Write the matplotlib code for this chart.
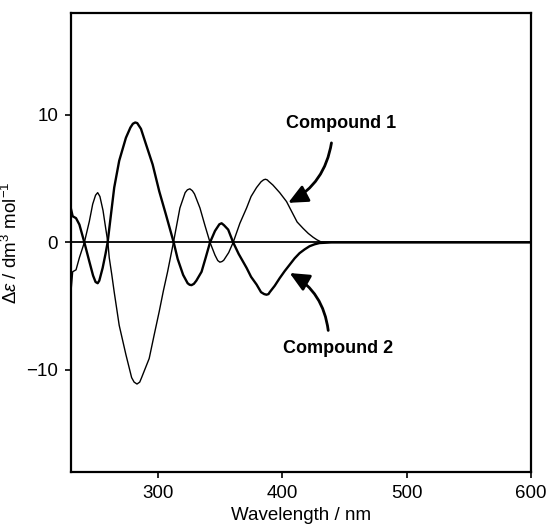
import matplotlib
matplotlib.use("Agg")
import matplotlib.pyplot as plt

plt.rcParams['font.family'] = ['Liberation Sans', 'DejaVu Sans']
plt.rcParams['mathtext.fontset'] = 'custom'
plt.rcParams['mathtext.rm'] = 'Liberation Sans'
plt.rcParams['mathtext.it'] = 'Liberation Sans:italic'
plt.rcParams['mathtext.bf'] = 'Liberation Sans:bold'

# Compound 1 (thin line)
wl_c1 = [230.3, 231.0, 231.6, 234.3, 237.0, 241.0, 245.0, 247.7, 250.0, 251.7, 253.5, 256.0,
         258.0, 259.9, 261.0, 263.0, 265.0, 269.0, 274.4, 279.0, 281.0, 283.3, 285.5, 287.0,
         293.1, 297.0, 301.2, 304.5, 307.9, 312.6, 317.8, 322.0, 323.8, 325.8, 327.8, 329.5,
         333.9, 338.0, 342.0, 346.0, 348.2, 349.9, 351.6, 353.0, 357.0, 360.6, 366.0, 371.4,
         375.0, 379.4, 383.0, 385.0, 386.5, 388.0, 389.0, 392.5, 398.0, 403.5, 408.8, 412.0,
         416.8, 421.0, 424.9, 428.0, 431.0, 440.0, 600.0]
de_c1 = [-3.8, -3.0, -2.3, -2.15, -1.2, 0.0, 1.65, 3.0, 3.7, 3.9, 3.6, 2.5,
         1.2, 0.0, -1.2, -2.5, -3.9, -6.5, -8.8, -10.6, -10.95, -11.1, -10.95, -10.6,
         -9.1, -7.3, -5.4, -3.8, -2.3, 0.0, 2.7, 3.9, 4.12, 4.2, 4.05, 3.8,
         2.7, 1.3, 0.0, -1.0, -1.42, -1.55, -1.5, -1.4, -0.8, 0.0, 1.5, 2.7,
         3.6, 4.3, 4.75, 4.9, 4.95, 4.9, 4.8, 4.5, 3.9, 3.2, 2.2, 1.6,
         1.1, 0.7, 0.4, 0.2, 0.05, 0.0, 0.0]

# Compound 2 (thick line)
wl_c2 = [230.3, 231.6, 234.3, 237.0, 241.0, 245.0, 248.0, 250.0, 251.7, 253.0, 255.7, 258.0,
         259.7, 262.4, 265.0, 269.0, 274.4, 278.0, 280.0, 281.9, 283.5, 286.5, 290.5, 295.9,
         301.2, 306.5, 312.8, 316.0, 320.4, 324.0, 325.6, 327.1, 329.0, 331.0, 335.2, 338.5,
         342.0, 346.0, 349.5, 351.3, 353.2, 356.6, 360.6, 365.0, 371.4, 375.0, 379.4, 383.0,
         385.5, 387.4, 389.0, 390.0, 394.0, 398.0, 402.0, 406.0, 410.0, 414.0, 418.0, 422.0,
         426.0, 430.0, 440.0, 600.0]
de_c2 = [2.6, 2.05, 1.9, 1.4, 0.0, -1.5, -2.6, -3.1, -3.2, -3.0, -2.0, -0.9,
         0.0, 2.2, 4.3, 6.4, 8.2, 9.0, 9.3, 9.4, 9.35, 8.9, 7.7, 6.1,
         4.0, 2.2, 0.0, -1.3, -2.55, -3.2, -3.32, -3.35, -3.25, -3.0, -2.3, -1.2,
         0.0, 0.9, 1.42, 1.5, 1.35, 1.0, 0.0, -0.9, -2.0, -2.7, -3.3, -3.9,
         -4.05, -4.1, -4.05, -3.9, -3.4, -2.8, -2.25, -1.75, -1.25, -0.84, -0.55, -0.3,
         -0.15, -0.05, 0.0, 0.0]

x_ticks = [300, 400, 500, 600]
y_ticks = [-10, 0, 10]

fig = plt.figure(figsize=(5.5, 5.31), dpi=100)
ax = fig.add_axes([0.1285, 0.111, 0.837, 0.865])

ax.axhline(0, color='black', lw=1.3, zorder=1)
ax.plot(wl_c1, de_c1, color='black', lw=1.0, zorder=2, solid_joinstyle='round')
ax.plot(wl_c2, de_c2, color='black', lw=1.7, zorder=2, solid_joinstyle='round')

ax.set_xlim(230, 600)
ax.set_ylim(-18, 18)
ax.set_xticks(x_ticks)
ax.set_yticks(y_ticks)
ax.tick_params(direction='out', length=4, width=1.2, labelsize=13.5, pad=5)
for s in ax.spines.values():
    s.set_linewidth(1.6)

ax.set_xlabel('Wavelength / nm', fontsize=13.5, labelpad=4)
ax.set_ylabel(r'Δ$\mathit{ε}$ / dm$^{3}$ mol$^{-1}$', fontsize=13.5, labelpad=4)

ax.text(447, 9.3, 'Compound 1', fontsize=13, fontweight='bold', ha='center', va='center')
ax.text(444.7, -8.3, 'Compound 2', fontsize=13, fontweight='bold', ha='center', va='center')

arrow_kw = dict(arrowstyle='-|>,head_length=0.65,head_width=0.3', color='black',
                lw=2, mutation_scale=18, shrinkA=0, shrinkB=0)
ax.annotate('', xy=(404.8, 3.1), xytext=(439.6, 7.8),
            arrowprops=dict(connectionstyle='arc3,rad=-0.25', **arrow_kw))
ax.annotate('', xy=(406, -2.4), xytext=(437, -6.9),
            arrowprops=dict(connectionstyle='arc3,rad=0.25', **arrow_kw))

fig.savefig('out.png', dpi=100)
